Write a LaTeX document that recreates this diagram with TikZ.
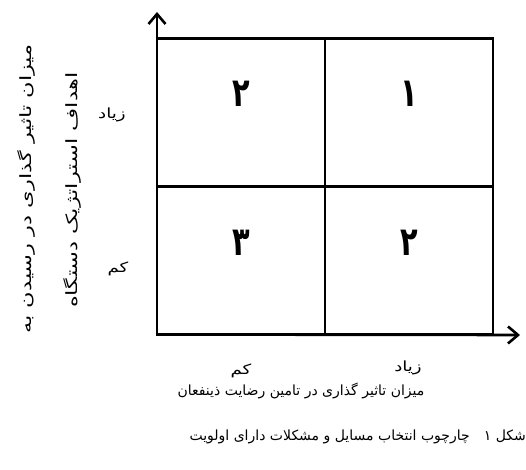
\documentclass[tikz,border=0pt]{standalone}
\usepackage{fontspec}
\newfontfamily\farsi[Script=Arabic]{DejaVu Sans}
\TeXXeTstate=1
\usetikzlibrary{arrows.meta,positioning}

\tikzset{
  cell/.style={draw, line width=2.6pt, minimum width=168pt, minimum height=148pt, inner sep=0pt, outer sep=0pt},
  num/.style={font=\farsi\fontsize{40}{42}\selectfont\bfseries, xscale=0.72, inner sep=0pt},
  lbl/.style={font=\farsi\fontsize{14}{16}\selectfont, inner sep=1pt},
  tick/.style={lbl, xscale=1.3},
  ytitle/.style={lbl, rotate=90, xscale=1.45, font=\farsi\fontsize{15.5}{17}\selectfont},
  axis/.style={line width=2.6pt}
}

\begin{document}
\begin{tikzpicture}[x=1pt, y=-1pt, node distance=0pt, >={Straight Barb[length=10pt,width=17pt]}]
  \useasboundingbox[fill=white] (0,0) rectangle (526,469);

  % the four cells of the matrix
  \node[cell] (tl) at (241,112.5) {};
  \node[cell, right=of tl] (tr) {};
  \node[cell, below=of tl] (bl) {};
  \node[cell, right=of bl] (br) {};

  \node[num] (ntl) at ([yshift=19pt]tl.center) {\beginR ۲\endR};
  \node[num] (ntr) at ([yshift=19pt]tr.center) {\beginR ۱\endR};
  \node[num] (nbl) at ([yshift=18pt]bl.center) {\beginR ۳\endR};
  \node[num] (nbr) at ([yshift=18pt]br.center) {\beginR ۲\endR};

  % axes
  \coordinate (ytip) at (157,12);
  \coordinate (xtip) at (520,335);
  \draw[axis,->] (bl.south west) -- (ytip);
  \draw[axis,->] (bl.south west) -- (xtip);

  % vertical axis labels
  \node[tick] (yhigh) at (112,115) {\beginR زیاد\endR};
  \node[tick] (ylow) at (118,269) {\beginR کم\endR};
  \node[ytitle] (ytitle1) at (26,189) {\beginR میزان تاثیر گذاری در رسیدن به\endR};
  \node[ytitle] (ytitle2) at (72,190) {\beginR اهداف استراتژیک دستگاه\endR};

  % horizontal axis labels
  \node[tick] (xlow) at (241,371) {\beginR کم\endR};
  \node[tick] (xhigh) at (408,368) {\beginR زیاد\endR};
  \node[lbl, font=\farsi\fontsize{14}{16}\selectfont] (xtitle) at (301,391) {\beginR میزان تاثیر گذاری در تامین رضایت ذینفعان\endR};

  % caption
  \node[lbl, anchor=east, font=\farsi\fontsize{14}{16}\selectfont] (caption) at (527,437) {\beginR شکل ۱\quad چارچوب انتخاب مسایل و مشکلات دارای اولویت\endR};
\end{tikzpicture}
\end{document}
